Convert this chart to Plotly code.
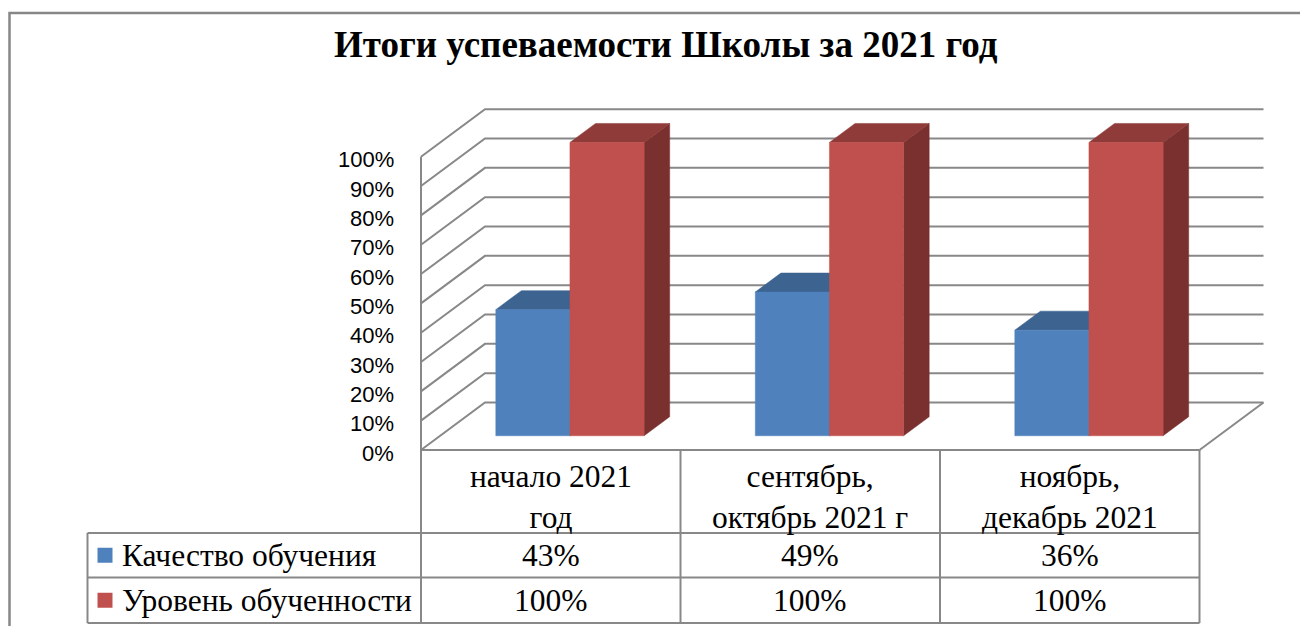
import plotly.graph_objects as go

# ---------------- data ----------------
TITLE = "Итоги успеваемости Школы за 2021 год"
CATEGORIES = ["начало 2021<br>год", "сентябрь,<br>октябрь 2021 г", "ноябрь,<br>декабрь 2021"]
SERIES_NAMES = ["Качество обучения", "Уровень обученности"]
QUALITY = [43, 49, 36]
LEVEL = [100, 100, 100]
Y_TICKS = [0, 10, 20, 30, 40, 50, 60, 70, 80, 90, 100]

SERIES = [QUALITY, LEVEL]
FRONT_COLORS = ["#4F81BD", "#C0504D"]
TOP_COLORS = ["#3D6390", "#8F3B39"]
SIDE_COLORS = ["#385D8A", "#7A302F"]
GRID = "#888888"

# ---------------- geometry (pixel -> axis units) ----------------
W, H = 1300, 626
X0PX, X3PX = 421.0, 1199.5      # front plane: category 0 .. 3
Y0PX, Y100PX = 450.0, 156.7     # front plane: 0% .. 100%
XPX = (X3PX - X0PX) / 3.0
YPX = (Y0PX - Y100PX) / 100.0


def px2x(px):
    return (px - X0PX) / XPX


def px2y(py):
    return (Y0PX - py) / YPX


DX = 64.0 / XPX     # depth offset (whole depth) in x units
DY = 47.5 / YPX     # depth offset in y units
NCAT = len(CATEGORIES)
NSER = len(SERIES)
GAP = 1.5            # gap width (Excel style 150%)
BAR_W = 1.0 / (NSER + GAP)
D_FRONT, D_BACK = 0.3, 0.7


def proj(x, y, d):
    return x + d * DX, y + d * DY


fig = go.Figure()


def add_poly(pts, color):
    xs = [p[0] for p in pts] + [pts[0][0]]
    ys = [p[1] for p in pts] + [pts[0][1]]
    fig.add_trace(go.Scatter(x=xs, y=ys, mode="lines", fill="toself",
                             fillcolor=color, line=dict(color=color, width=0.5),
                             hoverinfo="skip", showlegend=False))


def add_lines(segs, color=GRID, width=2):
    xs, ys = [], []
    for seg in segs:
        for p in seg:
            xs.append(p[0]); ys.append(p[1])
        xs.append(None); ys.append(None)
    fig.add_trace(go.Scatter(x=xs, y=ys, mode="lines",
                             line=dict(color=color, width=width),
                             hoverinfo="skip", showlegend=False))


# walls gridlines
segs = []
for t in Y_TICKS:
    segs.append([proj(0, t, 0), proj(0, t, 1), proj(NCAT, t, 1)])
# floor right edge
segs.append([proj(NCAT, 0, 0), proj(NCAT, 0, 1)])
add_lines(segs, width=2)

# bars
for c in range(NCAT):
    for s in range(NSER):
        v = SERIES[s][c]
        xl = c + (1 - NSER * BAR_W) / 2 + s * BAR_W
        xr = xl + BAR_W
        # side face
        add_poly([proj(xr, 0, D_FRONT), proj(xr, 0, D_BACK), proj(xr, v, D_BACK), proj(xr, v, D_FRONT)], SIDE_COLORS[s])
        # top face
        add_poly([proj(xl, v, D_FRONT), proj(xr, v, D_FRONT), proj(xr, v, D_BACK), proj(xl, v, D_BACK)], TOP_COLORS[s])
        # front face
        add_poly([proj(xl, 0, D_FRONT), proj(xr, 0, D_FRONT), proj(xr, v, D_FRONT), proj(xl, v, D_FRONT)], FRONT_COLORS[s])

# table
ROW_TOP = px2y(533)
ROW_MID = px2y(577.5)
ROW_BOT = px2y(623)
LEG_LEFT = px2x(87.5)
tsegs = [
    [(0, 0), (NCAT, 0)],
    [(LEG_LEFT, ROW_TOP), (NCAT, ROW_TOP)],
    [(LEG_LEFT, ROW_MID), (NCAT, ROW_MID)],
    [(LEG_LEFT, ROW_BOT), (NCAT, ROW_BOT)],
    [(LEG_LEFT, ROW_TOP), (LEG_LEFT, ROW_BOT)],
    [(0, Y_TICKS[-1]), (0, ROW_BOT)],
]
for c in range(1, NCAT + 1):
    tsegs.append([(c, 0), (c, ROW_BOT)])
add_lines(tsegs, width=2)

# legend keys in table
row_centers = [(ROW_TOP + ROW_MID) / 2, (ROW_MID + ROW_BOT) / 2]
fig.add_trace(go.Scatter(x=[px2x(105)] * NSER, y=row_centers, mode="markers",
                         marker=dict(symbol="square", size=15, color=FRONT_COLORS,
                                     line=dict(width=0)),
                         hoverinfo="skip", showlegend=False))

annotations = []
SERIF = "Liberation Serif, Times New Roman, serif"
TFS = 31.5
for s in range(NSER):
    annotations.append(dict(x=px2x(120), y=row_centers[s], text=SERIES_NAMES[s],
                            xanchor="left", yanchor="middle", showarrow=False,
                            font=dict(family=SERIF, size=TFS, color="black")))
    for c in range(NCAT):
        annotations.append(dict(x=c + 0.5, y=row_centers[s], text=f"{SERIES[s][c]}%",
                                xanchor="center", yanchor="middle", showarrow=False,
                                font=dict(family=SERIF, size=TFS, color="black")))
for c in range(NCAT):
    annotations.append(dict(x=c + 0.5, y=px2y(497), text=CATEGORIES[c],
                            xanchor="center", yanchor="middle", showarrow=False,
                            font=dict(family=SERIF, size=TFS, color="black")))
for t in Y_TICKS:
    annotations.append(dict(x=px2x(396), y=t, text=f"{t}%", xanchor="right",
                            yanchor="middle", yshift=-3, showarrow=False,
                            font=dict(family="Liberation Sans, Arial, sans-serif", size=22, color="black")))
annotations.append(dict(xref="paper", yref="paper", x=666 / W, y=1 - 44 / H, text=f"<b>{TITLE}</b>",
                        xanchor="center", yanchor="middle", showarrow=False,
                        font=dict(family=SERIF, size=37, color="black")))

fig.update_layout(
    width=W, height=H,
    margin=dict(l=0, r=0, t=0, b=0),
    paper_bgcolor="white", plot_bgcolor="white",
    xaxis=dict(range=[px2x(0), px2x(W)], domain=[0, 1], visible=False, fixedrange=True),
    yaxis=dict(range=[px2y(H), px2y(0)], domain=[0, 1], visible=False, fixedrange=True),
    annotations=annotations,
    shapes=[dict(type="rect", xref="paper", yref="paper", x0=9.5 / W, x1=1.05,
                 y0=-0.05, y1=1 - 13 / H, line=dict(color="#878787", width=2.5))],
    showlegend=False,
)

fig.write_html("out.html", config={"displayModeBar": False},
               post_script="document.body.style.margin='0';")
